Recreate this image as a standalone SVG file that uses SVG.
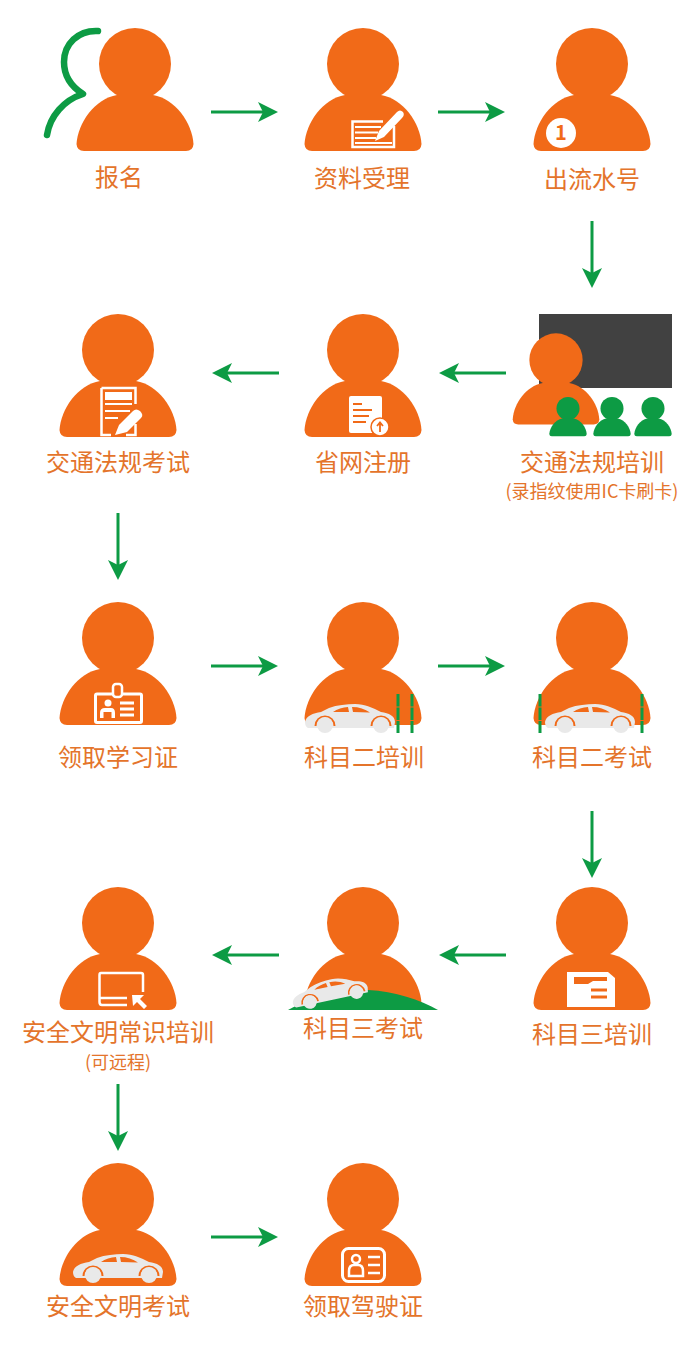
<svg xmlns="http://www.w3.org/2000/svg" width="690" height="1360" viewBox="0 0 690 1360">
<style>
text{font-family:"Noto Sans CJK SC","Noto Sans",sans-serif;fill:#e4742b;text-anchor:middle}
.l{font-size:24px}
.s{font-size:18px}
.o{fill:#f16a18}
.g{fill:#0d9b44}
.w{fill:#fff}
.c{fill:#e9e9e9}
.wl{fill:none;stroke:#fff;stroke-width:2.5}
.ol{fill:none;stroke:#f16a18;stroke-width:2}
.ar{stroke:#0d9b44;stroke-width:3;fill:none;marker-end:url(#ah)}
.d{stroke:#0d9b44;stroke-width:3;stroke-dasharray:12.500 1;fill:none}
</style>
<defs>
<marker id="ah" markerUnits="userSpaceOnUse" markerWidth="24" markerHeight="24" refX="6" refY="12" orient="auto">
<path d="M1,2 L21,12 L1,22 L6,12 Z" fill="#0d9b44"/>
</marker>
<symbol id="p" overflow="visible">
<circle cx="0" cy="0" r="36"/>
<path d="M-18,31 L18,31 C40,35 57,58 58.500,80 Q58,87 51,87 L-51,87 Q-58,87 -58.500,80 C-57,58 -40,35 -18,31 Z"/>
</symbol>
<symbol id="car" overflow="visible">
<path class="c" d="M0,18 C1,12 8,9 16,8 L24,4 C32,1 42,0 50,0 C60,0 68,4 76,8 C84,9 90,12 90,18 L89,24 L3,24 C1,23 0,21 0,18 Z"/>
<path d="M28,8 C32,5 38,3.500 43,3 L44,8 Z M47,3 C54,3 60,5 65,8.500 L48,8 Z" fill="#f16a18"/>
<path class="ol" d="M10.500,22 A9.500,9.500 0 0 1 29.500,22"/>
<path class="ol" d="M66.500,22 A9.500,9.500 0 0 1 85.500,22"/>
<circle cx="20" cy="21" r="8" class="c"/>
<circle cx="76" cy="21" r="8" class="c"/>
</symbol>
</defs>

<g id="connectors">
<line class="ar" x1="211" y1="112" x2="263" y2="112"/>
<line class="ar" x1="438" y1="112" x2="490" y2="112"/>
<line class="ar" x1="592" y1="221" x2="592" y2="273"/>
<line class="ar" x1="506" y1="373" x2="454" y2="373"/>
<line class="ar" x1="279" y1="373" x2="227" y2="373"/>
<line class="ar" x1="118" y1="513" x2="118" y2="565"/>
<line class="ar" x1="211" y1="666" x2="263" y2="666"/>
<line class="ar" x1="438" y1="666" x2="490" y2="666"/>
<line class="ar" x1="592" y1="811" x2="592" y2="863"/>
<line class="ar" x1="506" y1="955" x2="454" y2="955"/>
<line class="ar" x1="279" y1="955" x2="227" y2="955"/>
<line class="ar" x1="118" y1="1084" x2="118" y2="1136"/>
<line class="ar" x1="211" y1="1237" x2="263" y2="1237"/>
</g>

<g id="n-baoming">
<path d="M98,31 C78,30 64,44 64,62 C64,76 72,87 83,94 C64,100 50,116 47,135" fill="none" stroke="#0d9b44" stroke-width="6.500" stroke-linecap="round" stroke-linejoin="round"/>
<use href="#p" x="135" y="64" class="o"/>
<text class="l" x="119" y="186">报名</text>
</g>

<g id="n-ziliao">
<use href="#p" x="363" y="64" class="o"/>
<path class="wl" d="M383,121.500 L352.500,121.500 L352.500,147 L394,147 L394,126"/>
<path d="M355,127 H381 M355,132.500 H378 M355,138 H376 M355,143 H392" stroke="#fff" stroke-width="2" fill="none"/>
<path class="w" d="M375,141 L379,131 L397,112 Q400,109 403,112 Q405,115 402,118 L384,137 Z"/>
<text class="l" x="362" y="187">资料受理</text>
</g>

<g id="n-liushui">
<use href="#p" x="592" y="64" class="o"/>
<circle class="w" cx="561" cy="133" r="15"/>
<text x="561" y="140" style="font-size:20px;font-weight:700;fill:#f16a18">1</text>
<text class="l" x="592" y="188">出流水号</text>
</g>

<g id="n-peixun">
<rect x="539" y="314" width="133" height="74" fill="#414141"/>
<use href="#p" transform="translate(556,360) scale(.74)" class="o"/>
<use href="#p" transform="translate(568,408.500) scale(.32)" class="g"/>
<use href="#p" transform="translate(612,408.500) scale(.32)" class="g"/>
<use href="#p" transform="translate(653,408.500) scale(.32)" class="g"/>
<text class="l" x="592" y="471">交通法规培训</text>
<text class="s" x="592" y="498">(录指纹使用IC卡刷卡)</text>
</g>

<g id="n-shengwang">
<use href="#p" x="363" y="350" class="o"/>
<path class="w" d="M351,396 H380 Q382,396 382,398 V420 L372,433 H351 Q349,433 349,431 V398 Q349,396 351,396 Z"/>
<path d="M353,404 H362 M353,410 H372 M353,416 H369 M353,422 H366" stroke="#f16a18" stroke-width="2" fill="none"/>
<circle cx="380" cy="427" r="9" fill="#fff" stroke="#f16a18" stroke-width="1.500"/>
<path d="M380,432 V424 M377,426 L380,422.500 L383,426" stroke="#f16a18" stroke-width="1.800" fill="none"/>
<text class="l" x="363" y="471">省网注册</text>
</g>

<g id="n-kaoshi1">
<use href="#p" x="118" y="350" class="o"/>
<path class="wl" d="M101.500,388 H135.500 V404 M101.500,388 V435 H111 M126,435 H135.500 V424"/>
<rect class="w" x="105" y="392" width="27" height="8"/>
<path d="M105,404 H132 M105,411 H130 M105,418 H118" stroke="#fff" stroke-width="2" fill="none"/>
<path class="w" d="M115,435 L119,425 L133,411 Q136,408 140,411 Q144,415 141,418 L127,432 Z"/>
<text class="l" x="118" y="471">交通法规考试</text>
</g>

<g id="n-xuexizheng">
<use href="#p" x="118" y="638" class="o"/>
<rect x="95.500" y="694" width="46" height="28.500" rx="1.500" fill="none" stroke="#fff" stroke-width="3"/>
<rect x="113" y="684" width="9" height="13" rx="3" fill="#f16a18" stroke="#fff" stroke-width="2.500"/>
<circle class="w" cx="108" cy="703" r="3.500"/>
<path class="w" d="M100,718 V713 Q100,708 105,708 H111 Q115,708 115,713 V718 H111.500 V712 H103.500 V718 Z"/>
<path d="M120,703 H134 M120,709 H134 M120,715 H134" stroke="#fff" stroke-width="3" fill="none"/>
<text class="l" x="118" y="766">领取学习证</text>
</g>

<g id="n-ke2pei">
<use href="#p" x="363" y="638" class="o"/>
<use href="#car" x="305" y="704"/>
<path class="d" d="M398,694 V733 M412,694 V733"/>
<text class="l" x="364" y="766">科目二培训</text>
</g>

<g id="n-ke2kao">
<use href="#p" x="592" y="638" class="o"/>
<use href="#car" x="545" y="704"/>
<path class="d" d="M540,694 V733 M642,694 V733"/>
<text class="l" x="592" y="766">科目二考试</text>
</g>

<g id="n-ke3pei">
<use href="#p" x="592" y="923" class="o"/>
<path class="w" d="M567,972 H608 L615,978 V1007 H567 Z"/>
<path d="M574,977 H607 V981 H593 L588,984 H574 Z" fill="#f16a18"/>
<path d="M591,990 H607 M591,997 H607" stroke="#f16a18" stroke-width="3" fill="none"/>
<text class="l" x="592" y="1043">科目三培训</text>
</g>

<g id="n-ke3kao">
<use href="#p" x="363" y="923" class="o"/>
<path class="g" d="M288,1010 C310,997 340,989 368,990 C395,991 420,1000 438,1010 Z"/>
<use href="#car" transform="translate(310,1002) rotate(-12) scale(.85) translate(-20,-21)"/>
<text class="l" x="363" y="1037">科目三考试</text>
</g>

<g id="n-anquan">
<use href="#p" x="118" y="923" class="o"/>
<path class="wl" d="M143,992 V975 Q143,973 141,973 H101 Q99.500,973 99.500,975 V1002 Q99.500,1005 102,1005 H127 M100,998 H127"/>
<path class="w" d="M132,995 H144 L140,999 L147,1006 L144,1009 L137,1002 L133,1006 Z"/>
<text class="l" x="118" y="1041">安全文明常识培训</text>
<text class="s" x="118" y="1069">(可远程)</text>
</g>

<g id="n-aqkao">
<use href="#p" x="118" y="1199" class="o"/>
<use href="#car" x="73" y="1254"/>
<text class="l" x="118" y="1315">安全文明考试</text>
</g>

<g id="n-jiashi">
<use href="#p" x="363" y="1199" class="o"/>
<rect x="342.500" y="1248.500" width="42" height="33" rx="6" fill="none" stroke="#fff" stroke-width="3"/>
<circle cx="356" cy="1259" r="4" fill="none" stroke="#fff" stroke-width="2.500"/>
<path d="M349,1276 V1271 Q349,1265 354,1265 H358 Q363,1265 363,1271 V1276 Z" fill="none" stroke="#fff" stroke-width="2.500"/>
<path d="M368,1257 H380 M368,1265 H380 M368,1273 H380" stroke="#fff" stroke-width="2.500" fill="none"/>
<text class="l" x="363" y="1315">领取驾驶证</text>
</g>
</svg>
